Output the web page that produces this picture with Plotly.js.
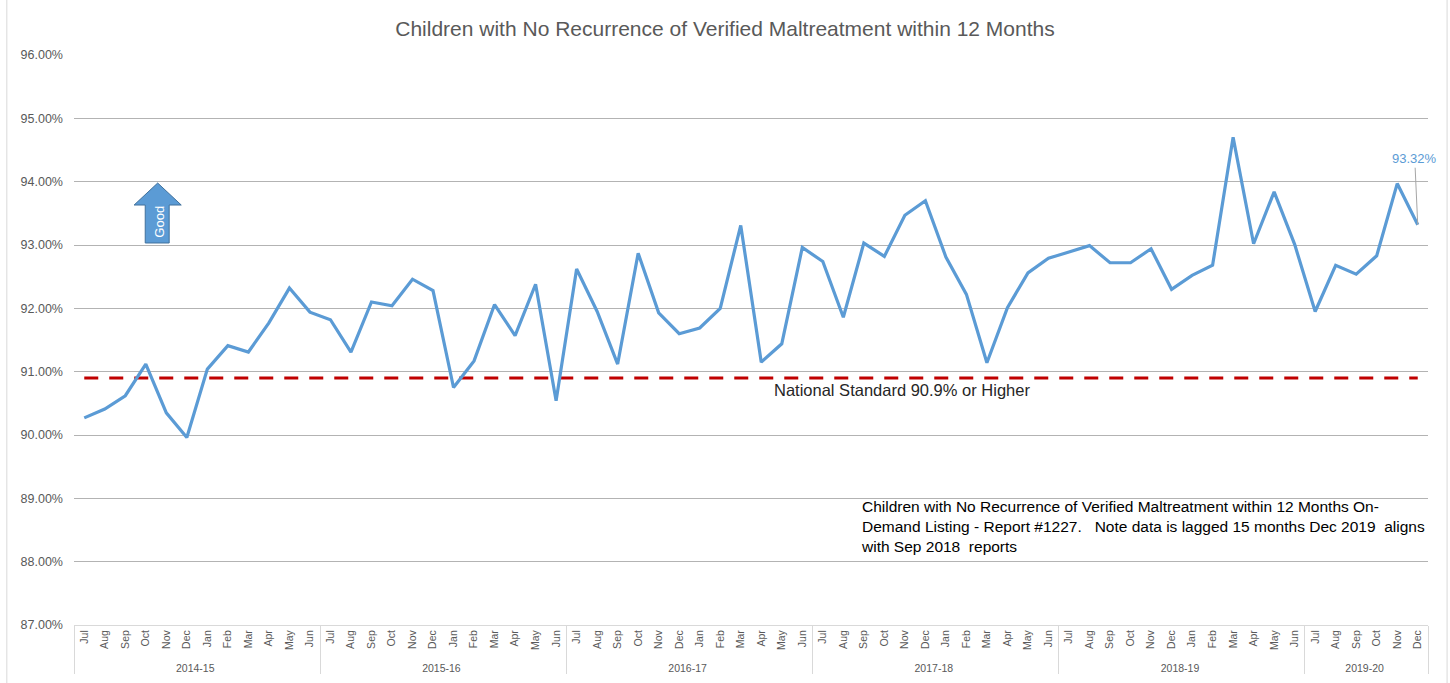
<!DOCTYPE html>
<html>
<head>
<meta charset="utf-8">
<script src="https://cdn.plot.ly/plotly-3.0.1.min.js"></script>
<style>html,body{margin:0;padding:0;background:#fff;}#chart{width:1450px;height:683px;}</style>
</head>
<body>
<div id="chart"></div>
<script>
// ---- data ----
const fiscalYears = ['2014-15','2015-16','2016-17','2017-18','2018-19','2019-20'];
const monthsPerYear = [12,12,12,12,12,6];
const monthNames = ['Jul','Aug','Sep','Oct','Nov','Dec','Jan','Feb','Mar','Apr','May','Jun'];
const rate2014_15 = [90.27,90.41,90.62,91.12,90.35,89.96,91.04,91.41,91.31,91.77,92.32,91.94];
const rate2015_16 = [91.82,91.31,92.10,92.04,92.46,92.28,90.75,91.17,92.06,91.57,92.38,90.54];
const rate2016_17 = [92.62,91.95,91.12,92.87,91.93,91.60,91.69,92.00,93.31,91.15,91.44,92.96];
const rate2017_18 = [92.74,91.86,93.03,92.82,93.47,93.70,92.81,92.22,91.14,92.01,92.56,92.79];
const rate2018_19 = [92.89,92.99,92.72,92.72,92.94,92.30,92.52,92.68,94.70,93.02,93.84,93.01];
const rate2019_20 = [91.95,92.68,92.54,92.83,93.97,93.32];
const nationalStandard = 90.9;
const yTicks = [87,88,89,90,91,92,93,94,95,96];

// ---- build ----
const outer = [], inner = [];
fiscalYears.forEach((fy, i) => {
  for (let m = 0; m < monthsPerYear[i]; m++) { outer.push(fy); inner.push(monthNames[m]); }
});
const rates = [].concat(rate2014_15, rate2015_16, rate2016_17, rate2017_18, rate2018_19, rate2019_20);
const standard = rates.map(() => nationalStandard);
const lastIdx = rates.length - 1;

const FONT = 'Liberation Sans, Arial, sans-serif';
const traces = [
  {x: [outer, inner], y: standard, type: 'scatter', mode: 'lines',
   line: {color: '#C00000', width: 3.2, dash: '14px,11px'}, hoverinfo: 'skip'},
  {x: [outer, inner], y: rates, type: 'scatter', mode: 'lines',
   line: {color: '#5B9BD5', width: 3.2}}
];

const layout = {
  width: 1450, height: 683,
  margin: {l: 74, r: 22, t: 55, b: 58},
  paper_bgcolor: '#ffffff', plot_bgcolor: '#ffffff',
  showlegend: false,
  title: {text: 'Children with No Recurrence of Verified Maltreatment within 12 Months',
          font: {family: FONT, size: 21, color: '#595959'}, x: 0.5, xanchor: 'center', y: 0.958, yanchor: 'middle'},
  xaxis: {type: 'multicategory', range: [-0.5, lastIdx + 0.5], tickangle: -90, showdividers: true,
          dividercolor: '#D9D9D9', dividerwidth: 1,
          tickfont: {family: FONT, size: 10.5, color: '#595959'}, showline: true, linecolor: '#D9D9D9',
          showgrid: false, ticks: '', zeroline: false},
  yaxis: {range: [87, 96], tickvals: yTicks, ticktext: yTicks.map(v => v.toFixed(2) + '%'),
          showgrid: true, gridcolor: '#B3B3B3', gridwidth: 1, zeroline: false, showline: false,
          tickfont: {family: FONT, size: 12.5, color: '#595959'}, ticks: '', ticklen: 0, ticklabelstandoff: 10},
  shapes: [
    // outer chart frame
    {type: 'rect', xref: 'paper', yref: 'paper', x0: -0.0496, x1: 1.0141, y0: -0.11, y1: 1.105,
     line: {color: '#D9D9D9', width: 1}, fillcolor: 'rgba(0,0,0,0)', layer: 'below'},
    // "Good" arrow
    {type: 'path', xref: 'paper', yref: 'paper',
     path: 'M 0.0526 0.6702 L 0.0526 0.7368 L 0.0444 0.7368 L 0.0618 0.7754 L 0.0792 0.7368 L 0.0703 0.7368 L 0.0703 0.6702 Z',
     fillcolor: '#5B9BD5', line: {color: '#41719C', width: 1}}
  ],
  annotations: [
    {xref: 'paper', yref: 'paper', x: 0.0614, y: 0.7035, xshift: -8, yshift: 20, text: 'Good', showarrow: false, textangle: -90,
     font: {family: FONT, size: 13, color: '#ffffff'}},
    {xref: 'paper', yref: 'y', x: 0.6117, y: nationalStandard, yanchor: 'top', yshift: -1,
     text: 'National Standard 90.9% or Higher', showarrow: false,
     font: {family: FONT, size: 16.5, color: '#262626'}},
    {xref: 'paper', yref: 'paper', x: 0.5797, y: 0.226, xanchor: 'left', yanchor: 'top', align: 'left',
     text: 'Children with No Recurrence of Verified Maltreatment within 12 Months On-<br>Demand Listing - Report #1227.   Note data is lagged 15 months Dec 2019  aligns<br>with Sep 2018  reports',
     showarrow: false, font: {family: FONT, size: 15.5, color: '#000000'}},
    {xref: 'x', yref: 'y', x: lastIdx, y: rates[lastIdx], text: rates[lastIdx].toFixed(2) + '%',
     showarrow: true, arrowhead: 0, arrowwidth: 1, arrowcolor: '#A6A6A6', ax: -3, ay: -66, standoff: 0,
     font: {family: FONT, size: 13, color: '#5B9BD5'}}
  ]
};

Plotly.newPlot('chart', traces, layout, {displayModeBar: false, staticPlot: true});
</script>
</body>
</html>
